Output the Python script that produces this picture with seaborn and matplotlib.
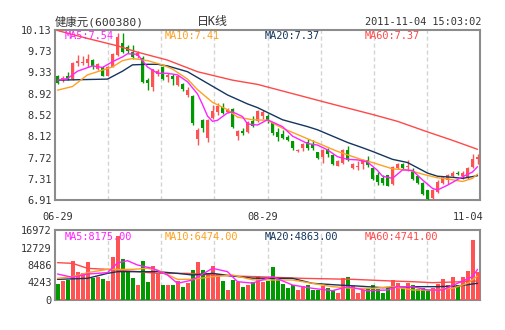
import numpy as np
import pandas as pd
import matplotlib
matplotlib.use("Agg")
import matplotlib.pyplot as plt
import matplotlib.transforms as mtransforms
import seaborn as sns

# ---------------- data ----------------
title_name = "健康元(600380)"
title_kind = "日K线"
timestamp = "2011-11-04 15:03:02"
date_labels = ["06-29", "08-29", "11-04"]
date_index = [0, 41, 84]

price_tick_labels = ["6.91", "7.31", "7.72", "8.12", "8.52", "8.92", "9.33", "9.73", "10.13"]
vol_tick_labels = ["0", "4243", "8486", "12729", "16972"]

opens = [9.25, 9.18, 9.25, 9.20, 9.50, 9.51, 9.50, 9.56, 9.39, 9.42,
         9.26, 9.43, 9.66, 9.88, 9.80, 9.72, 9.64, 9.60, 9.18, 9.05,
         9.30, 9.42, 9.24, 9.25, 9.09, 9.10, 8.90, 8.88, 8.07, 8.43,
         8.08, 8.47, 8.58, 8.68, 8.57, 8.63, 8.12, 8.22, 8.19, 8.41,
         8.41, 8.50, 8.50, 8.36, 8.20, 8.16, 8.11, 8.02, 7.84, 7.90,
         8.00, 7.98, 7.81, 7.73, 7.85, 7.76, 7.56, 7.62, 7.85, 7.51,
         7.53, 7.59, 7.67, 7.52, 7.38, 7.32, 7.38, 7.21, 7.52, 7.60,
         7.54, 7.48, 7.36, 7.24, 7.09, 6.94, 7.07, 7.23, 7.29, 7.37,
         7.43, 7.37, 7.35, 7.54, 7.68]
closes = [9.12, 9.23, 9.22, 9.51, 9.54, 9.53, 9.59, 9.45, 9.48, 9.26,
          9.43, 9.68, 10.00, 9.72, 9.74, 9.62, 9.70, 9.15, 9.13, 9.39,
          9.36, 9.21, 9.28, 9.21, 9.25, 9.02, 8.99, 8.37, 8.24, 8.28,
          8.43, 8.60, 8.69, 8.56, 8.62, 8.30, 8.22, 8.17, 8.39, 8.32,
          8.60, 8.57, 8.40, 8.17, 8.11, 8.08, 8.05, 7.90, 7.86, 7.98,
          7.89, 7.90, 7.70, 7.85, 7.78, 7.60, 7.64, 7.86, 7.67, 7.60,
          7.55, 7.67, 7.57, 7.30, 7.26, 7.23, 7.18, 7.54, 7.60, 7.51,
          7.56, 7.30, 7.24, 7.02, 6.92, 7.10, 7.26, 7.35, 7.38, 7.43,
          7.40, 7.43, 7.51, 7.68, 7.72]
highs = [9.28, 9.26, 9.33, 9.53, 9.65, 9.64, 9.68, 9.58, 9.50, 9.44,
         9.45, 9.70, 10.08, 10.08, 9.84, 9.85, 9.74, 9.63, 9.22, 9.40,
         9.40, 9.44, 9.32, 9.30, 9.27, 9.13, 9.05, 8.90, 8.27, 8.45,
         8.45, 8.71, 8.74, 8.75, 8.65, 8.65, 8.24, 8.28, 8.41, 8.50,
         8.62, 8.61, 8.53, 8.38, 8.27, 8.24, 8.14, 8.03, 7.88, 7.99,
         8.06, 8.05, 7.82, 7.87, 7.89, 7.78, 7.66, 7.88, 7.93, 7.62,
         7.64, 7.68, 7.75, 7.53, 7.44, 7.38, 7.39, 7.55, 7.62, 7.62,
         7.66, 7.51, 7.37, 7.25, 7.10, 7.12, 7.28, 7.37, 7.40, 7.45,
         7.45, 7.45, 7.53, 7.79, 7.79]
lows = [9.10, 9.15, 9.19, 9.18, 9.44, 9.47, 9.43, 9.40, 9.37, 9.25,
        9.25, 9.42, 9.64, 9.70, 9.70, 9.58, 9.60, 9.12, 8.99, 8.98,
        9.25, 9.18, 9.15, 9.08, 9.07, 8.98, 8.87, 8.34, 7.96, 8.20,
        8.00, 8.44, 8.52, 8.54, 8.55, 8.28, 8.05, 8.14, 8.17, 8.30,
        8.39, 8.45, 8.37, 8.15, 8.03, 8.06, 8.02, 7.85, 7.81, 7.83,
        7.86, 7.86, 7.68, 7.62, 7.73, 7.58, 7.55, 7.60, 7.65, 7.50,
        7.48, 7.50, 7.54, 7.29, 7.19, 7.19, 7.17, 7.20, 7.50, 7.49,
        7.45, 7.29, 7.22, 7.01, 6.90, 6.91, 7.05, 7.21, 7.22, 7.35,
        7.38, 7.30, 7.30, 7.52, 7.60]
volumes = [3880, 4600, 4850, 9450, 6870, 6460, 9210, 5250, 5650, 5090,
           4600, 10420, 15590, 9940, 6870, 5410, 3640, 9450, 4440, 8240,
           6630, 3640, 3640, 3640, 4600, 3230, 4200, 7270, 9210, 7270,
           6630, 8240, 6220, 4600, 2420, 4850, 4440, 3230, 3640, 4300,
           5750, 4280, 4690, 8080, 5490, 3880, 2990, 3640, 2420, 3390,
           3640, 2420, 2420, 3390, 2830, 2420, 1780, 5250, 5490, 3390,
           1780, 2420, 2990, 3640, 2590, 1620, 2830, 4850, 4200, 2830,
           4200, 3640, 2590, 2990, 2180, 2990, 3880, 5090, 3640, 5650,
           3640, 5650, 7110, 14500, 6870]

ma5_idx = [0, 2, 4, 7, 9, 11, 13, 14, 16, 18, 20, 22, 24, 26, 28, 29, 30, 31, 32, 34, 35, 37, 38, 40,
           42, 45, 47, 50, 52, 54, 56, 58, 60, 62, 63, 64, 65, 67, 69, 71, 73, 75, 76, 78, 81, 83, 84]
ma5_val = [9.18, 9.21, 9.35, 9.45, 9.42, 9.53, 9.62, 9.68, 9.67, 9.43, 9.31, 9.31, 9.28, 9.15, 8.92,
           8.72, 8.50, 8.40, 8.42, 8.56, 8.58, 8.49, 8.35, 8.33, 8.43, 8.30, 8.12, 7.98, 7.95, 7.86,
           7.73, 7.68, 7.67, 7.63, 7.55, 7.47, 7.36, 7.32, 7.48, 7.47, 7.29, 7.13, 7.10, 7.19, 7.35,
           7.44, 7.54]
ma10_idx = [0, 3, 6, 9, 11, 13, 15, 18, 21, 23, 26, 28, 31, 34, 36, 39, 42, 45, 52, 56, 61, 63, 67,
            70, 73, 76, 78, 81, 83, 84]
ma10_val = [8.99, 9.06, 9.28, 9.37, 9.43, 9.55, 9.59, 9.55, 9.47, 9.39, 9.20, 9.00, 8.76, 8.62, 8.48,
            8.43, 8.42, 8.27, 7.99, 7.83, 7.67, 7.62, 7.50, 7.48, 7.40, 7.33, 7.31, 7.26, 7.32, 7.40]
ma20_idx = [0, 10, 13, 15, 18, 20, 22, 26, 30, 34, 38, 40, 45, 50, 52, 58, 61, 63, 67, 70, 72, 74,
            76, 79, 81, 84]
ma20_val = [9.18, 9.20, 9.35, 9.47, 9.48, 9.48, 9.45, 9.34, 9.12, 8.90, 8.73, 8.66, 8.43, 8.30, 8.24,
            8.00, 7.90, 7.83, 7.68, 7.62, 7.52, 7.42, 7.36, 7.34, 7.32, 7.37]
ma60_idx = [0, 6, 12, 16, 22, 28, 35, 40, 46, 54, 63, 68, 74, 79, 84]
ma60_val = [10.12, 9.97, 9.83, 9.71, 9.56, 9.34, 9.18, 9.10, 8.95, 8.75, 8.53, 8.40, 8.20, 8.04, 7.87]

vma5_idx = [0, 3, 6, 10, 12, 14, 16, 19, 22, 24, 27, 31, 34, 36, 39, 43, 47, 51, 55, 58, 62, 66, 68,
            71, 74, 77, 80, 83, 84]
vma5_val = [6300, 5490, 6300, 6630, 9000, 9530, 8480, 7680, 6060, 4040, 4850, 7680, 6870, 4440, 4100,
            5650, 3640, 2830, 2260, 3230, 2260, 2420, 3230, 3230, 2420, 2420, 4040, 5650, 7430]
vma10_idx = [0, 3, 6, 10, 15, 18, 20, 24, 27, 31, 35, 39, 43, 47, 51, 55, 59, 63, 67, 71, 75, 79, 82, 84]
vma10_val = [5250, 5650, 6630, 7430, 7430, 7680, 7270, 5010, 5010, 5650, 6060, 4900, 4850, 4850, 4040,
             3230, 2830, 2830, 3230, 2420, 2420, 2830, 4040, 5820]
vma20_idx = [0, 6, 10, 12, 20, 24, 27, 31, 35, 39, 43, 47, 51, 56, 60, 65, 71, 76, 80, 84]
vma20_val = [5010, 5250, 6460, 6870, 6870, 6460, 6060, 6460, 5820, 5300, 5250, 5250, 4040, 3640, 3390,
             2990, 3230, 3230, 3390, 4040]
vma60_idx = [0, 3, 6, 10, 16, 20, 26, 31, 35, 40, 49, 59, 67, 71, 75, 81, 84]
vma60_val = [9050, 8890, 7680, 7430, 6870, 6460, 6460, 6060, 5820, 5650, 5250, 5010, 4600, 4440, 4200,
             4440, 4600]

price_labels = ["MA5:7.54", "MA10:7.41", "MA20:7.37", "MA60:7.37"]
vol_labels = ["MA5:8175.00", "MA10:6474.00", "MA20:4863.00", "MA60:4741.00"]

# ---------------- style ----------------
RED = "#FF5252"
GREEN = "#009A00"
C_MA5 = "#FF22FF"
C_MA10 = "#FFA020"
C_MA20 = "#14365E"
C_MA60 = "#FF4848"
SPINE = "#8C8C8C"
GRID = "#D4D4D4"
TXT = "#333333"

sns.set_theme(style="white")
plt.rcParams['font.family'] = ['DejaVu Sans Mono', 'Noto Sans CJK SC']

W, H = 505, 330
fig = plt.figure(figsize=(W / 100, H / 100), dpi=100)
ax = fig.add_axes([55 / W, (H - 200) / H, 425 / W, 170 / H])
axv = fig.add_axes([55 / W, (H - 300) / H, 425 / W, 70 / H])

N = len(closes)
idx = np.arange(N)
o = np.array(opens); c = np.array(closes)
hi = np.array(highs); lo = np.array(lows)
up = c >= o
cols = np.where(up, RED, GREEN)

pmin, pmax = float(price_tick_labels[0]), float(price_tick_labels[-1])
vmax = float(vol_tick_labels[-1])

def style_axes(a, ymin, ymax, ylabels, ngrid_y):
    a.set_xlim(-0.5, N - 0.5)
    a.set_ylim(ymin, ymax)
    yt = np.linspace(ymin, ymax, len(ylabels))
    a.set_yticks(yt)
    a.set_yticklabels(ylabels)
    a.set_yticks(np.linspace(ymin, ymax, ngrid_y + 1)[1:-1], minor=True)
    a.set_xticks(-0.5 + np.arange(1, 8) * N / 8, minor=True)
    a.grid(False)
    a.grid(True, which='minor', color=GRID, linestyle=(0, (3, 2)), linewidth=1)
    a.tick_params(which='both', length=0)
    a.tick_params(axis='y', labelsize=7.4, labelcolor=TXT, pad=2.5)
    for s in a.spines.values():
        s.set_color(SPINE)
        s.set_linewidth(1.5)
    a.set_xlabel("")
    a.set_ylabel("")
    a.set_axisbelow(True)

# candles
ax.vlines(idx, lo, hi, colors=cols, linewidth=1, zorder=3)
body = np.maximum(np.abs(c - o), 0.015)
ax.bar(idx, body, bottom=np.minimum(o, c), width=0.72, color=cols, linewidth=0, zorder=3)

for xs, ys, col in [(ma60_idx, ma60_val, C_MA60), (ma20_idx, ma20_val, C_MA20),
                    (ma10_idx, ma10_val, C_MA10), (ma5_idx, ma5_val, C_MA5)]:
    sns.lineplot(x=xs, y=ys, ax=ax, color=col, linewidth=1.0, zorder=4)

style_axes(ax, pmin, pmax, price_tick_labels, 8)
ax.set_xticks(date_index)
ax.set_xticklabels(date_labels)
ax.tick_params(axis='x', labelsize=7.4, labelcolor=TXT, pad=9)
lbls = ax.get_xticklabels()
lbls[-1].set_horizontalalignment('right')
lbls[-1].set_transform(lbls[-1].get_transform() + mtransforms.ScaledTranslation(6 / 100, 0, fig.dpi_scale_trans))

# volume
dfv = pd.DataFrame({"idx": idx, "vol": volumes, "dir": np.where(up, "up", "down")})
sns.barplot(data=dfv, x="idx", y="vol", hue="dir", palette={"up": RED, "down": GREEN},
            dodge=False, legend=False, width=0.8, native_scale=True, saturation=1,
            errorbar=None, ax=axv, linewidth=0, zorder=3)
for xs, ys, col in [(vma60_idx, vma60_val, C_MA60), (vma20_idx, vma20_val, C_MA20),
                    (vma10_idx, vma10_val, C_MA10), (vma5_idx, vma5_val, C_MA5)]:
    sns.lineplot(x=xs, y=ys, ax=axv, color=col, linewidth=1.0, zorder=4)
style_axes(axv, 0, vmax, vol_tick_labels, 4)
axv.set_xticks([])

# texts
def px(x, y):
    return x / W, 1 - y / H

fig.text(*px(55, 22), title_name, fontsize=8.2, color=TXT, va='center', ha='left')
fig.text(*px(212, 22), title_kind, fontsize=8.6, color=TXT, va='center', ha='center')
fig.text(*px(481, 22), timestamp, fontsize=7.4, color=TXT, va='center', ha='right')

label_cols = [C_MA5, C_MA10, C_MA20, C_MA60]
for k, (t, col) in enumerate(zip(price_labels, label_cols)):
    fig.text(*px(65 + 100 * k, 36), t, fontsize=7.4, color=col, va='center', ha='left')
for k, (t, col) in enumerate(zip(vol_labels, label_cols)):
    fig.text(*px(65 + 100 * k, 237), t, fontsize=7.4, color=col, va='center', ha='left')

fig.savefig("out.png", dpi=100, facecolor="white")
